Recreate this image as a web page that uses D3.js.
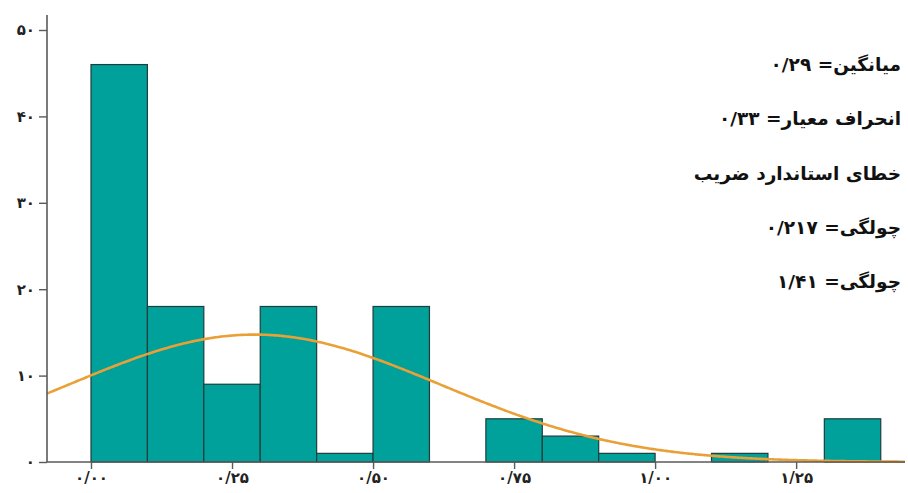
<!DOCTYPE html>
<html>
<head>
<meta charset="utf-8">
<script src="https://cdn.jsdelivr.net/npm/d3@7"></script>
<style>
  html, body { margin: 0; padding: 0; background: #fff; }
  svg { display: block; }
</style>
</head>
<body>
<svg id="chart" width="908" height="493"></svg>
<script>
// ---- data ----
const binStarts = [0.0, 0.1, 0.2, 0.3, 0.4, 0.5, 0.6, 0.7, 0.8, 0.9, 1.0, 1.1, 1.2, 1.3];
const binWidth = 0.1;
const counts = [46, 18, 9, 18, 1, 18, 0, 5, 3, 1, 0, 1, 0, 5];
const xTickValues = [0, 0.25, 0.5, 0.75, 1.0, 1.25];
const xTickLabels = ["۰/۰۰", "۰/۲۵", "۰/۵۰", "۰/۷۵", "۱/۰۰", "۱/۲۵"];
const yTickValues = [0, 10, 20, 30, 40, 50];
const yTickLabels = ["۰", "۱۰", "۲۰", "۳۰", "۴۰", "۵۰"];
const statLines = ["میانگین= ۰/۲۹", "انحراف معیار= ۰/۳۳", "خطای استاندارد ضریب", "چولگی= ۰/۲۱۷", "چولگی= ۱/۴۱"];
const curveMean = 0.29;
const curveSd = 0.33;
const curveN = 122;

// ---- layout ----
const svg = d3.select("#chart");
const x = d3.scaleLinear().domain([-0.078, 1.443]).range([47, 905]);
const y = d3.scaleLinear().domain([0, 50]).range([462, 30]);
const font = "'DejaVu Sans', sans-serif";

// bars
svg.append("g").selectAll("rect")
  .data(binStarts.map((s, i) => ({ s, c: counts[i] })).filter(d => d.c > 0))
  .join("rect")
  .attr("x", d => x(d.s))
  .attr("width", d => x(d.s + binWidth) - x(d.s))
  .attr("y", d => y(d.c))
  .attr("height", d => y(0) - y(d.c))
  .attr("fill", "#00A19A")
  .attr("stroke", "#1f3d3c")
  .attr("stroke-width", 1.2);

// normal curve
const scaleN = curveN * binWidth / (curveSd * Math.sqrt(2 * Math.PI));
const xs = d3.range(0, 301).map(i => x.domain()[0] + (x.domain()[1] - x.domain()[0]) * i / 300);
const line = d3.line()
  .x(v => x(v))
  .y(v => y(scaleN * Math.exp(-0.5 * Math.pow((v - curveMean) / curveSd, 2))))
  .curve(d3.curveBasis);
svg.append("path").datum(xs)
  .attr("d", line)
  .attr("fill", "none")
  .attr("stroke", "#E9A137")
  .attr("stroke-width", 2.6);

// axes
const xAxis = d3.axisBottom(x).tickValues(xTickValues).tickSize(7)
  .tickFormat((d, i) => xTickLabels[i]);
const gx = svg.append("g").attr("transform", `translate(0,${y(0)})`).call(xAxis);
gx.select(".domain").attr("stroke", "#5a5a5a").attr("stroke-width", 1.6).attr("d", `M47,0H905`);
gx.selectAll(".tick line").attr("stroke", "#5a5a5a").attr("stroke-width", 1.4);
gx.selectAll(".tick text").attr("font-family", font).attr("font-weight", "bold")
  .attr("font-size", 15).attr("fill", "#222").attr("dy", "0.75em").attr("letter-spacing", 1);

const yAxis = d3.axisLeft(y).tickValues(yTickValues).tickSize(8)
  .tickFormat((d, i) => yTickLabels[i]);
const gy = svg.append("g").attr("transform", `translate(${x.range()[0]},0)`).call(yAxis);
gy.select(".domain").attr("stroke", "#5a5a5a").attr("stroke-width", 1.6).attr("d", `M0,15V${y(0)}`);
gy.selectAll(".tick line").attr("stroke", "#5a5a5a").attr("stroke-width", 1.4);
gy.selectAll(".tick text").attr("font-family", font).attr("font-weight", "bold")
  .attr("font-size", 15).attr("fill", "#222").attr("x", -12).attr("letter-spacing", 1);

// stats text
svg.append("g").selectAll("text")
  .data(statLines)
  .join("text")
  .attr("x", 901)
  .attr("y", (d, i) => 71 + i * 54.3)
  .attr("direction", "rtl")
  .attr("text-anchor", "start")
  .attr("font-family", font)
  .attr("font-weight", "bold")
  .attr("font-size", 18.5)
  .attr("fill", "#111")
  .text(d => d);
</script>
</body>
</html>
